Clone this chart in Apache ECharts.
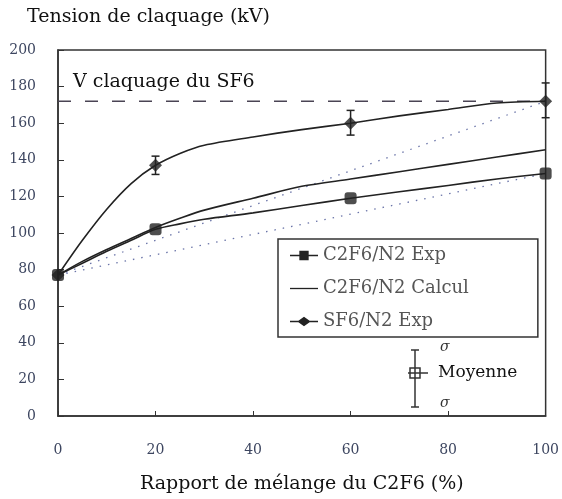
<!DOCTYPE html>
<html>
<head>
<meta charset="utf-8">
<script src="https://cdn.jsdelivr.net/npm/echarts@6/dist/echarts.min.js"></script>
<style>
  html, body { margin: 0; padding: 0; background: #fff; }
  #chart { width: 562px; height: 499px; }
</style>
</head>
<body>
<div id="chart"></div>
<script>
// Mixing ratio of C2F6 (%) at the measured points
const mixX = [0, 20, 60, 100];
// Measured breakdown voltages (kV)
const c2f6Exp = [77, 102, 119, 132.5];
const sf6Exp = [77, 137, 160, 172];
// Standard deviation bounds of the SF6/N2 measurements
const sf6Low = [null, 132, 153.5, 163];
const sf6High = [null, 142, 167, 182];

// Fitted curves sampled along the mixing ratio
const curveX = [0, 5, 10, 15, 20, 25, 30, 40, 50, 60, 70, 80, 90, 100];
const sf6Curve = [77, 96, 113, 127, 137, 143.5, 148, 152.5, 156.5, 160, 164, 167.5, 171, 172];
const c2f6ExpCurve = [77, 83.5, 90, 96, 102, 105, 107.5, 111, 115, 119, 122.5, 126, 129.5, 132.5];
const c2f6CalcCurve = [77, 84.5, 91, 97, 103, 108, 112.5, 119, 125.5, 129.5, 133.5, 137.5, 141.5, 145.5];

// Breakdown voltage of pure SF6 (kV)
const sf6Breakdown = 172;
// Pure N2 value and linear-mixing end points
const n2Value = 77;
const linearEnds = [172, 132.5];

const xTicks = [0, 20, 40, 60, 80, 100];
const yMax = 200, yStep = 20;

const serif = 'DejaVu Serif';
const ink = '#222';

const zip = (xs, ys) => xs.map((x, i) => [x, ys[i]]);

const errData = mixX.map((x, i) => [x, sf6Low[i], sf6High[i]]).filter(d => d[1] != null);

const chart = echarts.init(document.getElementById('chart'));
chart.setOption({
  animation: false,
  backgroundColor: '#fff',
  title: {
    text: 'Tension de claquage (kV)',
    left: 27, top: 8, padding: 0,
    textStyle: { fontFamily: serif, fontSize: 19, fontWeight: 'normal', color: '#111' }
  },
  grid: {
    left: 58, right: 14, top: 50, bottom: 83,
    show: true, borderColor: '#333', borderWidth: 1.5, backgroundColor: 'transparent'
  },
  xAxis: {
    type: 'value', min: 0, max: 100, interval: 20,
    name: 'Rapport de mélange du C2F6 (%)',
    nameLocation: 'middle', nameGap: 59,
    nameTextStyle: { fontFamily: serif, fontSize: 19, color: '#111' },
    axisLine: { lineStyle: { color: '#333', width: 1.5 } },
    axisTick: { inside: true, length: 5, lineStyle: { color: '#333' } },
    axisLabel: { margin: 27, fontFamily: serif, fontSize: 14, color: '#3d4660',
      formatter: v => xTicks.includes(v) ? String(v) : '' },
    splitLine: { show: false }
  },
  yAxis: {
    type: 'value', min: 0, max: yMax, interval: yStep,
    axisLine: { lineStyle: { color: '#333', width: 1.5 } },
    axisTick: { inside: true, length: 6, lineStyle: { color: '#333' } },
    axisLabel: { margin: 22, fontFamily: serif, fontSize: 14, color: '#3d4660' },
    splitLine: { show: false }
  },
  legend: {
    orient: 'vertical',
    left: 278, top: 239,
    padding: [7, 69, 6, 12],
    itemWidth: 28, itemHeight: 10, itemGap: 14,
    borderColor: '#333', borderWidth: 1.5,
    backgroundColor: '#fff',
    textStyle: { fontFamily: serif, fontSize: 18, color: '#555', lineHeight: 19 },
    data: [
      { name: 'C2F6/N2 Exp', icon: 'path://M0,4.3L10,4.3L10,0L20,0L20,4.3L30,4.3L30,5.7L20,5.7L20,10L10,10L10,5.7L0,5.7Z' },
      { name: 'C2F6/N2 Calcul', icon: 'path://M0,4.3L30,4.3L30,5.7L0,5.7Z' },
      { name: 'SF6/N2 Exp', icon: 'path://M0,4.3L9,4.3L15,0L21,4.3L30,4.3L30,5.7L21,5.7L15,10L9,5.7L0,5.7Z' }
    ],
    z: 10
  },
  graphic: [
    {
      type: 'text', left: 73, top: 73, z: 5,
      style: { text: 'V claquage du SF6', font: '19px "DejaVu Serif"', fill: '#111' }
    },
    {
      type: 'group', z: 20,
      children: [
        { type: 'line', shape: { x1: 415, y1: 350, x2: 415, y2: 407 }, style: { stroke: '#333', lineWidth: 1.5 } },
        { type: 'line', shape: { x1: 411, y1: 350, x2: 419, y2: 350 }, style: { stroke: '#333', lineWidth: 1.5 } },
        { type: 'line', shape: { x1: 411, y1: 407, x2: 419, y2: 407 }, style: { stroke: '#333', lineWidth: 1.5 } },
        { type: 'rect', shape: { x: 410, y: 368, width: 10, height: 10 }, style: { stroke: '#333', fill: 'none', lineWidth: 1.5 } },
        { type: 'line', shape: { x1: 408, y1: 373, x2: 428, y2: 373 }, style: { stroke: '#333', lineWidth: 1.5 } },
        { type: 'text', x: 438, y: 373, style: { text: 'Moyenne', font: '17px "DejaVu Serif"', fill: '#111', verticalAlign: 'middle' } },
        { type: 'text', x: 440, y: 347, style: { text: 'σ', font: 'italic 14px "DejaVu Serif"', fill: '#333', verticalAlign: 'middle' } },
        { type: 'text', x: 440, y: 403, style: { text: 'σ', font: 'italic 14px "DejaVu Serif"', fill: '#333', verticalAlign: 'middle' } }
      ]
    }
  ],
  series: [
    // linear mixing references (dotted)
    ...linearEnds.map((end, i) => ({
      name: 'linéaire ' + i,
      type: 'line', silent: true, symbol: 'none',
      data: [[0, n2Value], [100, end]],
      lineStyle: { color: '#6a74a8', width: 1.3, type: [1.5, 7] },
      z: 1
    })),
    {
      name: 'SF6 pur', type: 'line', silent: true, symbol: 'none',
      data: [[0, sf6Breakdown], [100, sf6Breakdown]],
      lineStyle: { color: '#4a4454', width: 1.5, type: [13, 14] },
      z: 1
    },
    {
      name: 'C2F6/N2 Calcul', type: 'line', smooth: 0.3, symbol: 'none',
      data: zip(curveX, c2f6CalcCurve),
      color: ink, lineStyle: { color: ink, width: 1.6 }
    },
    {
      name: 'C2F6/N2 Exp', type: 'line', smooth: 0.3, symbol: 'none',
      data: zip(curveX, c2f6ExpCurve),
      color: ink, lineStyle: { color: ink, width: 1.6 }
    },
    {
      name: 'SF6/N2 Exp', type: 'line', smooth: 0.3, symbol: 'none',
      data: zip(curveX, sf6Curve),
      color: ink, lineStyle: { color: ink, width: 1.6 }
    },
    {
      name: 'SF6/N2 écart', type: 'custom',
      data: errData,
      renderItem: (params, api) => {
        const x = api.value(0);
        const lo = api.coord([x, api.value(1)]);
        const hi = api.coord([x, api.value(2)]);
        const w = 4;
        const st = { stroke: ink, lineWidth: 1.5 };
        return {
          type: 'group',
          children: [
            { type: 'line', shape: { x1: lo[0], y1: lo[1], x2: hi[0], y2: hi[1] }, style: st },
            { type: 'line', shape: { x1: lo[0] - w, y1: lo[1], x2: lo[0] + w, y2: lo[1] }, style: st },
            { type: 'line', shape: { x1: hi[0] - w, y1: hi[1], x2: hi[0] + w, y2: hi[1] }, style: st }
          ]
        };
      },
      z: 3
    },
    {
      name: 'SF6/N2 points', type: 'scatter', symbol: 'diamond', symbolSize: 13,
      data: zip(mixX, sf6Exp), itemStyle: { color: ink }, z: 4
    },
    {
      name: 'C2F6/N2 points', type: 'scatter', symbol: 'roundRect', symbolSize: 12,
      data: zip(mixX, c2f6Exp), itemStyle: { color: ink }, z: 4
    }
  ]
});
</script>
</body>
</html>
